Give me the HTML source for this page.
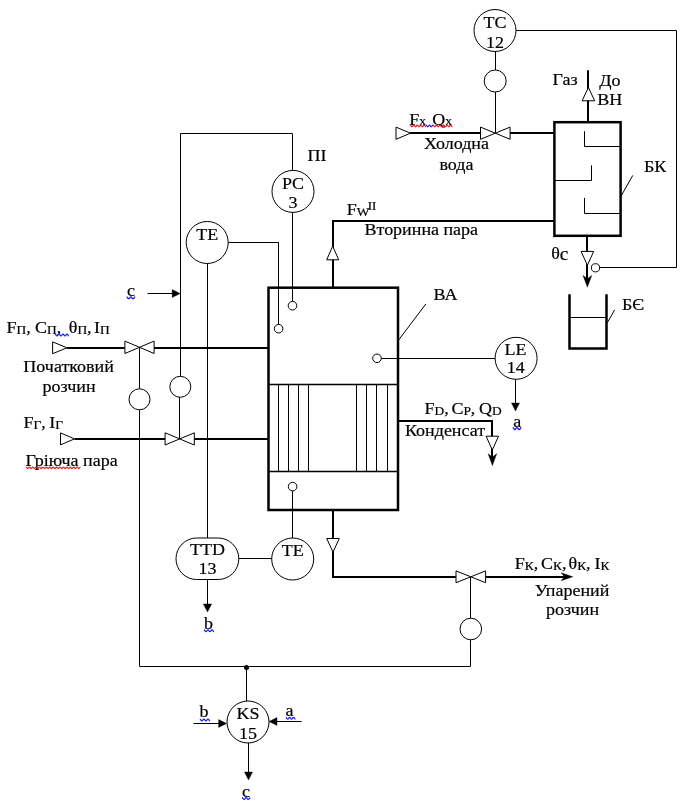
<!DOCTYPE html>
<html><head><meta charset="utf-8"><style>
html,body{margin:0;padding:0;background:#fff;}
svg{display:block;will-change:transform;}
text{font-family:"Liberation Serif",serif;fill:#000;stroke:#000;stroke-width:0.2px;white-space:pre;}
</style></head><body>
<svg width="688" height="806" viewBox="0 0 688 806">
<rect width="688" height="806" fill="#fff"/>
<g stroke="#000" fill="none">
<circle cx="495" cy="30.5" r="21" stroke-width="1.0" fill="#fff"/>
<text transform="translate(495 27.6) scale(1.017 1)" text-anchor="middle" font-size="17.7">TC</text>
<text transform="translate(495 47.7) scale(1.017 1)" text-anchor="middle" font-size="17.7">12</text>
<polyline points="516,30.5 676.5,30.5 676.5,267.5 599.2,267.5" stroke-width="1.0" fill="none"/>
<line x1="495.5" y1="51.5" x2="495.5" y2="70" stroke-width="1.0"/>
<circle cx="495.2" cy="81" r="11" stroke-width="1.0" fill="#fff"/>
<line x1="495.5" y1="92" x2="495.5" y2="133.2" stroke-width="1.0"/>
<line x1="410" y1="133.0" x2="480.3" y2="133.0" stroke-width="2.0"/>
<line x1="509.6" y1="133.0" x2="554.4" y2="133.0" stroke-width="2.0"/>
<polygon points="396,127.1 396,139.29999999999998 410.5,133.2" stroke-width="1.0" fill="#fff"/>
<polygon points="480.5,127.1 480.5,139.29999999999998 495.3,133.2" stroke-width="1.0" fill="#fff"/>
<polygon points="510.1,127.1 510.1,139.29999999999998 495.3,133.2" stroke-width="1.0" fill="#fff"/>
<text transform="translate(409.3 124.5) scale(1.017 1)" text-anchor="start" font-size="17.7">F<tspan font-size="13.2" style="baseline-shift:-1px">x</tspan></text>
<text transform="translate(432.3 124.5) scale(1.017 1)" text-anchor="start" font-size="17.7">Q<tspan font-size="13.2" style="baseline-shift:-1px">x</tspan></text>
<path d="M410.20,125.20 C411.08,125.20 411.08,126.80 411.96,126.80 C412.83,126.80 412.83,125.20 413.71,125.20 C414.59,125.20 414.59,126.80 415.47,126.80 C416.34,126.80 416.34,125.20 417.22,125.20 C418.10,125.20 418.10,126.80 418.98,126.80 C419.86,126.80 419.86,125.20 420.73,125.20 C421.61,125.20 421.61,126.80 422.49,126.80 C423.37,126.80 423.37,125.20 424.24,125.20 C425.12,125.20 425.12,126.80 426.00,126.80" stroke="#e81818" stroke-width="1.2" fill="none"/>
<path d="M426.00,125.20 C426.88,125.20 426.88,126.80 427.75,126.80 C428.62,126.80 428.62,125.20 429.50,125.20 C430.38,125.20 430.38,126.80 431.25,126.80 C432.12,126.80 432.12,125.20 433.00,125.20" stroke="#1a1aff" stroke-width="1.2" fill="none"/>
<path d="M433.00,125.20 C433.88,125.20 433.88,126.80 434.76,126.80 C435.65,126.80 435.65,125.20 436.53,125.20 C437.41,125.20 437.41,126.80 438.29,126.80 C439.17,126.80 439.17,125.20 440.05,125.20 C440.94,125.20 440.94,126.80 441.82,126.80 C442.70,126.80 442.70,125.20 443.58,125.20 C444.46,125.20 444.46,126.80 445.35,126.80 C446.23,126.80 446.23,125.20 447.11,125.20 C447.99,125.20 447.99,126.80 448.87,126.80 C449.75,126.80 449.75,125.20 450.64,125.20 C451.52,125.20 451.52,126.80 452.40,126.80" stroke="#e81818" stroke-width="1.2" fill="none"/>
<text transform="translate(456.5 148.5) scale(1.017 1)" text-anchor="middle" font-size="17.7">Холодна</text>
<text transform="translate(456.5 170.2) scale(1.017 1)" text-anchor="middle" font-size="17.7">вода</text>
<rect x="554.4" y="122.2" width="66.2" height="113.6" stroke-width="2.5" fill="none"/>
<polyline points="584.5,131.2 584.5,146.5 620.6,146.5" stroke-width="1.0" fill="none"/>
<polyline points="554.4,180.5 591.5,180.5 591.5,165.4" stroke-width="1.0" fill="none"/>
<polyline points="584.5,197.9 584.5,213.5 620.6,213.5" stroke-width="1.0" fill="none"/>
<line x1="620.2" y1="197.6" x2="632.8" y2="175.4" stroke-width="1.0"/>
<text transform="translate(644 171.8) scale(1.017 1)" text-anchor="start" font-size="17.7">БК</text>
<line x1="588.0" y1="121.8" x2="588.0" y2="70.3" stroke-width="2.0"/>
<polygon points="582.1,100.8 594.6999999999999,100.8 588.4,87.4" stroke-width="1.0" fill="#fff"/>
<text transform="translate(577.6 85) scale(1.017 1)" text-anchor="end" font-size="17.7">Газ</text>
<text transform="translate(599.2 85.6) scale(1.017 1)" text-anchor="start" font-size="17.7">До</text>
<text transform="translate(597.2 104.5) scale(1.017 1)" text-anchor="start" font-size="17.7">ВН</text>
<line x1="587.0" y1="235.8" x2="587.0" y2="280" stroke-width="2.0"/>
<polygon points="581.1,251.4 593.6999999999999,251.4 587.4,265.3" stroke-width="1.0" fill="#fff"/>
<polygon points="587.4,287.2 583.0,275.4 587.4,278.7 591.8,275.4" stroke-width="0.4" fill="#000"/>
<circle cx="595.5" cy="267.8" r="4.1" stroke-width="1.0" fill="#fff"/>
<text transform="translate(551.2 258.8) scale(1.017 1)" text-anchor="start" font-size="17.7">θ<tspan font-size="19" style="baseline-shift:-1px">c</tspan></text>
<polyline points="569.5,294.2 569.5,348.5 606.5,348.5 606.5,294.2" stroke-width="2.5" fill="none"/>
<line x1="569" y1="317.5" x2="606.9" y2="317.5" stroke-width="1.0"/>
<line x1="607.3" y1="322.8" x2="614.6" y2="309.9" stroke-width="1.0"/>
<text transform="translate(622 309.5) scale(1.017 1)" text-anchor="start" font-size="17.7">БЄ</text>
<polyline points="180.5,376.2 180.5,133.5 292.5,133.5 292.5,170.2" stroke-width="1.0" fill="none"/>
<circle cx="293" cy="191.4" r="21" stroke-width="1.0" fill="#fff"/>
<text transform="translate(293 188.5) scale(1.017 1)" text-anchor="middle" font-size="17.7">PC</text>
<text transform="translate(293 208.4) scale(1.017 1)" text-anchor="middle" font-size="17.7">3</text>
<text transform="translate(307.5 161) scale(1.017 1)" text-anchor="start" font-size="17.7">ПІ</text>
<line x1="292.5" y1="212.6" x2="292.5" y2="301.3" stroke-width="1.0"/>
<circle cx="207.2" cy="242.5" r="21" stroke-width="1.0" fill="#fff"/>
<text transform="translate(207.2 239.6) scale(1.017 1)" text-anchor="middle" font-size="17.7">TE</text>
<polyline points="228.2,242.5 278.5,242.5 278.5,324.4" stroke-width="1.0" fill="none"/>
<line x1="207.5" y1="263.6" x2="207.5" y2="538" stroke-width="1.0"/>
<line x1="147.5" y1="293.5" x2="174" y2="293.5" stroke-width="1.0"/>
<polygon points="180.2,293.5 172.2,297.4 172.2,293.5 172.2,289.6" stroke-width="0.4" fill="#000"/>
<text transform="translate(127 295.6) scale(1.017 1)" text-anchor="start" font-size="17.7">c</text>
<path d="M126.60,296.90 C127.67,296.90 127.67,298.70 128.75,298.70 C129.82,298.70 129.82,296.90 130.90,296.90 C131.97,296.90 131.97,298.70 133.05,298.70 C134.12,298.70 134.12,296.90 135.20,296.90" stroke="#1a1aff" stroke-width="1.3" fill="none"/>
<polygon points="52.6,341.90000000000003 52.6,353.7 67,347.8" stroke-width="1.0" fill="#fff"/>
<line x1="67" y1="348.0" x2="124.7" y2="348.0" stroke-width="2.0"/>
<line x1="153.8" y1="348.0" x2="268.3" y2="348.0" stroke-width="2.0"/>
<polygon points="124.9,341.1 124.9,353.5 139.5,347.3" stroke-width="1.0" fill="#fff"/>
<polygon points="154.1,341.1 154.1,353.5 139.5,347.3" stroke-width="1.0" fill="#fff"/>
<line x1="139.5" y1="347.3" x2="139.5" y2="388.8" stroke-width="1.0"/>
<circle cx="139.5" cy="399.3" r="10.5" stroke-width="1.0" fill="#fff"/>
<polyline points="139.5,409.8 139.5,666.5 470.5,666.5 470.5,639.8" stroke-width="1.0" fill="none"/>
<circle cx="470.8" cy="629" r="10.8" stroke-width="1.0" fill="#fff"/>
<line x1="470.5" y1="618.2" x2="470.5" y2="576.8" stroke-width="1.0"/>
<text transform="translate(6.5 333) scale(1.017 1)" text-anchor="start" font-size="17.7">F<tspan font-size="13.2" style="baseline-shift:-1px">П</tspan>,</text>
<text transform="translate(35 333) scale(1.017 1)" text-anchor="start" font-size="17.7">C<tspan font-size="13.2" style="baseline-shift:-1px">П</tspan>,</text>
<text transform="translate(68.8 333) scale(1.017 1)" text-anchor="start" font-size="17.7">θ<tspan font-size="13.2" style="baseline-shift:-1px">П</tspan>,</text>
<text transform="translate(94 333) scale(1.017 1)" text-anchor="start" font-size="17.7">I<tspan font-size="13.2" style="baseline-shift:-1px">П</tspan></text>
<path d="M55.00,334.10 C56.00,334.10 56.00,335.90 57.00,335.90 C58.00,335.90 58.00,334.10 59.00,334.10 C60.00,334.10 60.00,335.90 61.00,335.90 C62.00,335.90 62.00,334.10 63.00,334.10 C64.00,334.10 64.00,335.90 65.00,335.90 C66.00,335.90 66.00,334.10 67.00,334.10 C68.00,334.10 68.00,335.90 69.00,335.90" stroke="#1a1aff" stroke-width="1.3" fill="none"/>
<text transform="translate(68.6 371.7) scale(1.017 1)" text-anchor="middle" font-size="17.7">Початковий</text>
<text transform="translate(69 392) scale(1.017 1)" text-anchor="middle" font-size="17.7">розчин</text>
<circle cx="180.3" cy="386.8" r="10.5" stroke-width="1.0" fill="#fff"/>
<line x1="179.5" y1="397.2" x2="179.5" y2="438.9" stroke-width="1.0"/>
<polygon points="60.5,432.9 60.5,444.9 74.5,438.9" stroke-width="1.0" fill="#fff"/>
<line x1="74.5" y1="439.0" x2="165.1" y2="439.0" stroke-width="2.0"/>
<line x1="194.2" y1="439.0" x2="268.3" y2="439.0" stroke-width="2.0"/>
<polygon points="165.1,432.79999999999995 165.1,445.0 179.7,438.9" stroke-width="1.0" fill="#fff"/>
<polygon points="194.29999999999998,432.79999999999995 194.29999999999998,445.0 179.7,438.9" stroke-width="1.0" fill="#fff"/>
<text transform="translate(23.5 428) scale(1.017 1)" text-anchor="start" font-size="17.7">F<tspan font-size="13.2" style="baseline-shift:-1px">Г</tspan>,</text>
<text transform="translate(49.2 428) scale(1.017 1)" text-anchor="start" font-size="17.7">I<tspan font-size="13.2" style="baseline-shift:-1px">Г</tspan></text>
<text transform="translate(25.5 465.8) scale(1.017 1)" text-anchor="start" font-size="17.7">Гріюча пара</text>
<path d="M26.00,467.00 C26.85,467.00 26.85,468.60 27.70,468.60 C28.55,468.60 28.55,467.00 29.41,467.00 C30.26,467.00 30.26,468.60 31.11,468.60 C31.96,468.60 31.96,467.00 32.81,467.00 C33.66,467.00 33.66,468.60 34.52,468.60 C35.37,468.60 35.37,467.00 36.22,467.00 C37.07,467.00 37.07,468.60 37.92,468.60 C38.77,468.60 38.77,467.00 39.62,467.00 C40.48,467.00 40.48,468.60 41.33,468.60 C42.18,468.60 42.18,467.00 43.03,467.00 C43.88,467.00 43.88,468.60 44.73,468.60 C45.59,468.60 45.59,467.00 46.44,467.00 C47.29,467.00 47.29,468.60 48.14,468.60 C48.99,468.60 48.99,467.00 49.84,467.00 C50.70,467.00 50.70,468.60 51.55,468.60 C52.40,468.60 52.40,467.00 53.25,467.00 C54.10,467.00 54.10,468.60 54.95,468.60 C55.80,468.60 55.80,467.00 56.66,467.00 C57.51,467.00 57.51,468.60 58.36,468.60 C59.21,468.60 59.21,467.00 60.06,467.00 C60.91,467.00 60.91,468.60 61.77,468.60 C62.62,468.60 62.62,467.00 63.47,467.00 C64.32,467.00 64.32,468.60 65.17,468.60 C66.02,468.60 66.02,467.00 66.88,467.00 C67.73,467.00 67.73,468.60 68.58,468.60 C69.43,468.60 69.43,467.00 70.28,467.00 C71.13,467.00 71.13,468.60 71.98,468.60 C72.84,468.60 72.84,467.00 73.69,467.00 C74.54,467.00 74.54,468.60 75.39,468.60 C76.24,468.60 76.24,467.00 77.09,467.00 C77.95,467.00 77.95,468.60 78.80,468.60 C79.65,468.60 79.65,467.00 80.50,467.00" stroke="#e81818" stroke-width="1.2" fill="none"/>
<rect x="268.5" y="287.7" width="129.5" height="222.3" stroke-width="2.5" fill="none"/>
<line x1="268.5" y1="384.5" x2="398" y2="384.5" stroke-width="1.3"/>
<line x1="268.5" y1="471.5" x2="398" y2="471.5" stroke-width="1.3"/>
<line x1="278.5" y1="384.3" x2="278.5" y2="471" stroke-width="1.0"/>
<line x1="288.5" y1="384.3" x2="288.5" y2="471" stroke-width="1.0"/>
<line x1="298.5" y1="384.3" x2="298.5" y2="471" stroke-width="1.0"/>
<line x1="308.5" y1="384.3" x2="308.5" y2="471" stroke-width="1.0"/>
<line x1="356.5" y1="384.3" x2="356.5" y2="471" stroke-width="1.0"/>
<line x1="366.5" y1="384.3" x2="366.5" y2="471" stroke-width="1.0"/>
<line x1="376.5" y1="384.3" x2="376.5" y2="471" stroke-width="1.0"/>
<line x1="387.5" y1="384.3" x2="387.5" y2="471" stroke-width="1.0"/>
<line x1="278.5" y1="242.4" x2="278.5" y2="324.4" stroke-width="1.0"/>
<circle cx="278.6" cy="328.7" r="4.3" stroke-width="1.0" fill="#fff"/>
<circle cx="292.5" cy="305.7" r="4.3" stroke-width="1.0" fill="#fff"/>
<circle cx="377" cy="358.3" r="4.3" stroke-width="1.0" fill="#fff"/>
<line x1="381.3" y1="358.5" x2="495.5" y2="358.5" stroke-width="1.0"/>
<circle cx="292.6" cy="486.6" r="4.3" stroke-width="1.0" fill="#fff"/>
<line x1="292.5" y1="490.9" x2="292.5" y2="538" stroke-width="1.0"/>
<polyline points="333.0,287.7 333.0,221.0 554.4,221.0" stroke-width="2.0" fill="none"/>
<polygon points="326.7,259.8 338.7,259.8 332.7,246.1" stroke-width="1.0" fill="#fff"/>
<text transform="translate(346.8 214.8) scale(1.017 1)" text-anchor="start" font-size="17.7">F<tspan font-size="13.2" style="baseline-shift:-1px">W</tspan><tspan font-size="12.8" dx="-1.8" style="baseline-shift:5px">II</tspan></text>
<text transform="translate(364.5 235) scale(1.017 1)" text-anchor="start" font-size="17.7">Вторинна пара</text>
<line x1="398.2" y1="340.6" x2="425.8" y2="304" stroke-width="1.0"/>
<text transform="translate(433.6 299.6) scale(1.017 1)" text-anchor="start" font-size="17.7">ВА</text>
<circle cx="516.1" cy="358.3" r="21" stroke-width="1.0" fill="#fff"/>
<text transform="translate(515.6 354.9) scale(1.017 1)" text-anchor="middle" font-size="17.7">LE</text>
<text transform="translate(515.8 373.4) scale(1.017 1)" text-anchor="middle" font-size="17.7">14</text>
<line x1="515.5" y1="379.3" x2="515.5" y2="404" stroke-width="1.0"/>
<polygon points="515.5,411 511.5,403 515.5,403 519.5,403" stroke-width="0.4" fill="#000"/>
<text transform="translate(513.3 427.2) scale(1.017 1)" text-anchor="start" font-size="17.7">a</text>
<path d="M512.70,427.70 C513.79,427.70 513.79,429.50 514.88,429.50 C515.96,429.50 515.96,427.70 517.05,427.70 C518.14,427.70 518.14,429.50 519.22,429.50 C520.31,429.50 520.31,427.70 521.40,427.70" stroke="#1a1aff" stroke-width="1.3" fill="none"/>
<polyline points="398,421.0 492.0,421.0 492.0,458" stroke-width="2.0" fill="none"/>
<polygon points="486.1,436.2 498.5,436.2 492.3,450" stroke-width="1.0" fill="#fff"/>
<polygon points="492.4,465.6 488.09999999999997,453.8 492.4,457.0 496.7,453.8" stroke-width="0.4" fill="#000"/>
<text transform="translate(424.6 413.9) scale(1.017 1)" text-anchor="start" font-size="17.7">F<tspan font-size="13.2" style="baseline-shift:-1px">D</tspan>,</text>
<text transform="translate(451.4 413.9) scale(1.017 1)" text-anchor="start" font-size="17.7">C<tspan font-size="13.2" style="baseline-shift:-1px">P</tspan>,</text>
<text transform="translate(479 413.9) scale(1.017 1)" text-anchor="start" font-size="17.7">Q<tspan font-size="13.2" style="baseline-shift:-1px">D</tspan></text>
<text transform="translate(405 435.7) scale(1.017 1)" text-anchor="start" font-size="17.7">Конденсат</text>
<polyline points="333.0,510 333.0,577.0 455.8,577.0" stroke-width="2.0" fill="none"/>
<polygon points="326.7,538.5 339.3,538.5 333,552" stroke-width="1.0" fill="#fff"/>
<line x1="484.8" y1="577.0" x2="566" y2="577.0" stroke-width="2.0"/>
<polygon points="456.0,570.9 456.0,582.6999999999999 470.8,576.8" stroke-width="1.0" fill="#fff"/>
<polygon points="485.6,570.9 485.6,582.6999999999999 470.8,576.8" stroke-width="1.0" fill="#fff"/>
<polygon points="572.8,576.8 561.1999999999999,580.8 564.4,576.8 561.1999999999999,572.8" stroke-width="0.4" fill="#000"/>
<text transform="translate(514.8 569) scale(1.017 1)" text-anchor="start" font-size="17.7">F<tspan font-size="13.2" style="baseline-shift:-1px">К</tspan>,</text>
<text transform="translate(541.1 569) scale(1.017 1)" text-anchor="start" font-size="17.7">C<tspan font-size="13.2" style="baseline-shift:-1px">К</tspan>,</text>
<text transform="translate(568.5 569) scale(1.017 1)" text-anchor="start" font-size="17.7">θ<tspan font-size="13.2" style="baseline-shift:-1px">К</tspan>,</text>
<text transform="translate(594.5 569) scale(1.017 1)" text-anchor="start" font-size="17.7">I<tspan font-size="13.2" style="baseline-shift:-1px">К</tspan></text>
<text transform="translate(572 595.8) scale(1.017 1)" text-anchor="middle" font-size="17.7">Упарений</text>
<text transform="translate(572.5 615) scale(1.017 1)" text-anchor="middle" font-size="17.7">розчин</text>
<rect x="176" y="538" width="62.8" height="41.5" rx="20.7" ry="20.7" stroke-width="1" fill="#fff"/>
<text transform="translate(207.4 554.8) scale(1.017 1)" text-anchor="middle" font-size="17.7">TTD</text>
<text transform="translate(207.4 573.7) scale(1.017 1)" text-anchor="middle" font-size="17.7">13</text>
<line x1="238.8" y1="558.5" x2="272" y2="558.5" stroke-width="1.0"/>
<circle cx="292.7" cy="559" r="21" stroke-width="1.0" fill="#fff"/>
<text transform="translate(292.7 556.3) scale(1.017 1)" text-anchor="middle" font-size="17.7">TE</text>
<line x1="207.5" y1="579.5" x2="207.5" y2="605" stroke-width="1.0"/>
<polygon points="207.5,612 203.4,604.0 207.5,604 211.6,604.0" stroke-width="0.4" fill="#000"/>
<text transform="translate(204 629) scale(1.017 1)" text-anchor="start" font-size="17.7">b</text>
<path d="M203.90,629.80 C204.91,629.80 204.91,631.60 205.92,631.60 C206.93,631.60 206.93,629.80 207.94,629.80 C208.95,629.80 208.95,631.60 209.96,631.60 C210.97,631.60 210.97,629.80 211.98,629.80 C212.99,629.80 212.99,631.60 214.00,631.60" stroke="#1a1aff" stroke-width="1.3" fill="none"/>
<circle cx="246.5" cy="667.4" r="2.5" fill="#000" stroke="none"/>
<line x1="246.5" y1="666.2" x2="246.5" y2="701" stroke-width="1.0"/>
<circle cx="248" cy="722" r="21" stroke-width="1.0" fill="#fff"/>
<text transform="translate(248 719) scale(1.017 1)" text-anchor="middle" font-size="17.7">KS</text>
<text transform="translate(248 738.8) scale(1.017 1)" text-anchor="middle" font-size="17.7">15</text>
<line x1="193.5" y1="723.5" x2="219" y2="723.5" stroke-width="1.0"/>
<polygon points="226.6,723.5 218.6,727.4 218.6,723.5 218.6,719.6" stroke-width="0.4" fill="#000"/>
<text transform="translate(199.5 717) scale(1.017 1)" text-anchor="start" font-size="17.7">b</text>
<path d="M199.80,719.10 C200.82,719.10 200.82,720.90 201.84,720.90 C202.86,720.90 202.86,719.10 203.88,719.10 C204.90,719.10 204.90,720.90 205.92,720.90 C206.94,720.90 206.94,719.10 207.96,719.10 C208.98,719.10 208.98,720.90 210.00,720.90" stroke="#1a1aff" stroke-width="1.3" fill="none"/>
<line x1="301.7" y1="721.5" x2="276" y2="721.5" stroke-width="1.0"/>
<polygon points="269,721.5 277.0,717.6 277,721.5 277.0,725.4" stroke-width="0.4" fill="#000"/>
<text transform="translate(285.5 716) scale(1.017 1)" text-anchor="start" font-size="17.7">a</text>
<path d="M285.80,717.40 C286.77,717.40 286.77,719.20 287.74,719.20 C288.71,719.20 288.71,717.40 289.68,717.40 C290.65,717.40 290.65,719.20 291.62,719.20 C292.59,719.20 292.59,717.40 293.56,717.40 C294.53,717.40 294.53,719.20 295.50,719.20" stroke="#1a1aff" stroke-width="1.3" fill="none"/>
<line x1="248.5" y1="743" x2="248.5" y2="773" stroke-width="1.0"/>
<polygon points="248.5,780 244.5,772 248.5,772 252.5,772" stroke-width="0.4" fill="#000"/>
<text transform="translate(242 797) scale(1.017 1)" text-anchor="start" font-size="17.7">c</text>
<path d="M242.00,797.60 C243.04,797.60 243.04,799.40 244.07,799.40 C245.11,799.40 245.11,797.60 246.15,797.60 C247.19,797.60 247.19,799.40 248.23,799.40 C249.26,799.40 249.26,797.60 250.30,797.60" stroke="#1a1aff" stroke-width="1.3" fill="none"/>
</g>
</svg>
</body></html>
